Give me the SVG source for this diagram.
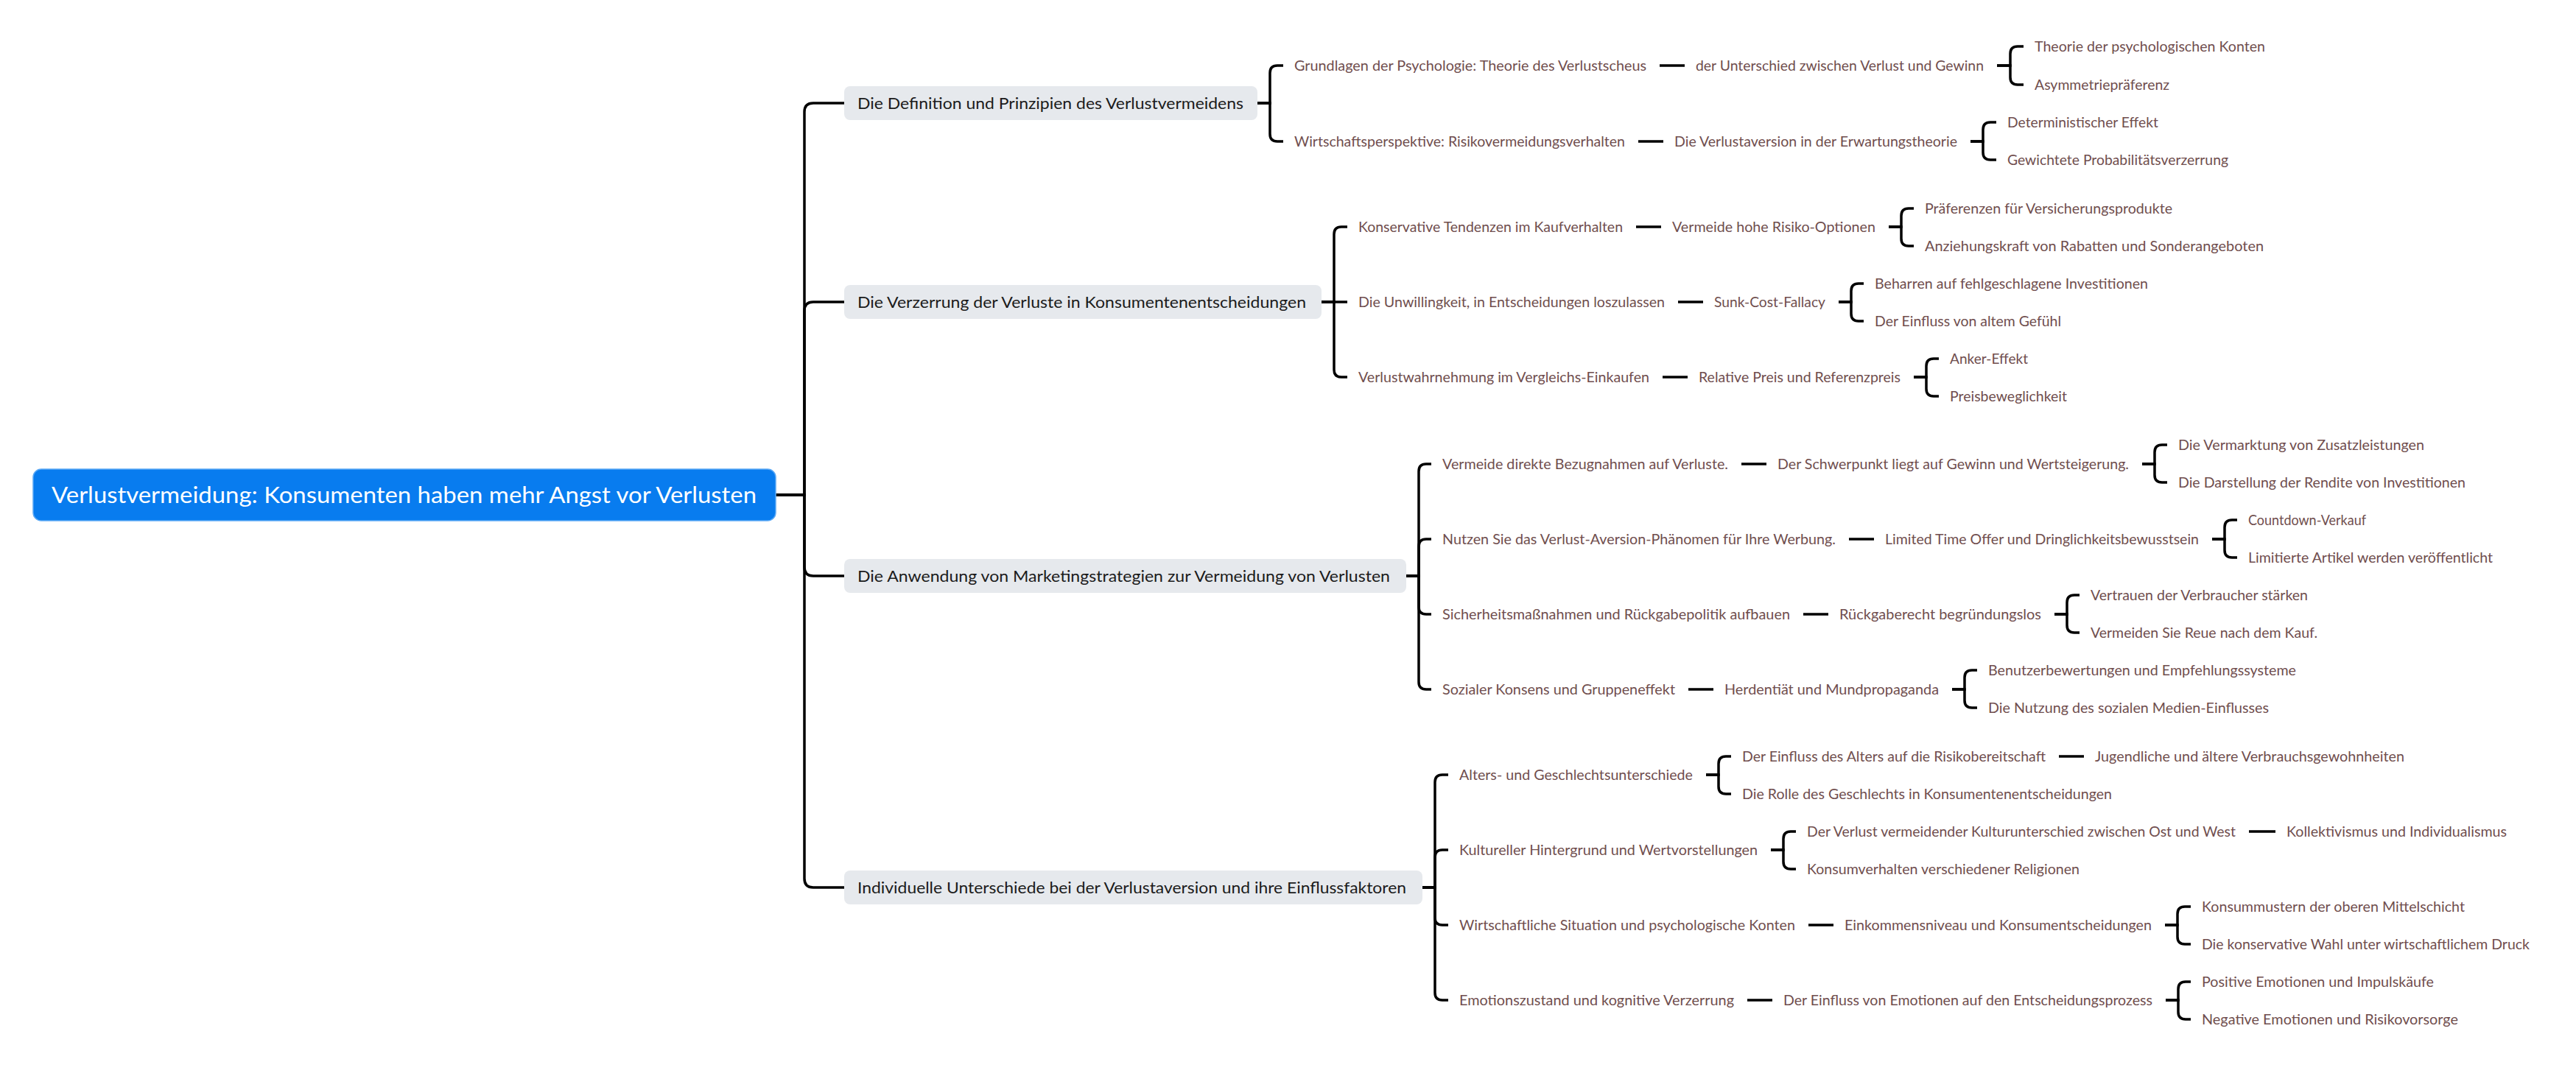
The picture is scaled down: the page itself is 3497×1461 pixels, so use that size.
<svg xmlns="http://www.w3.org/2000/svg" width="3497" height="1461" viewBox="0 0 3497 1461">
<style>
.c{fill:none;stroke:#000;stroke-width:3.5}
.rt{font-family:Lato,"Noto Sans","DejaVu Sans",sans-serif;font-size:30px;fill:#fff}
.t1{font-family:Lato,"Noto Sans","DejaVu Sans",sans-serif;font-size:22px;fill:#1b1b1b}
.t2{font-family:Lato,"Noto Sans","DejaVu Sans",sans-serif;font-size:20px;fill:#704e4e}
.b1{fill:#e6e9ed}
</style>
<rect width="3497" height="1461" fill="#fff"/>
<g id="connectors">
<path class="c" d="M1053,672 H1092 V152 Q1092,140 1104,140 H1146"/>
<path class="c" d="M1053,672 H1092 V422 Q1092,410 1104,410 H1146"/>
<path class="c" d="M1053,672 H1092 V770 Q1092,782 1104,782 H1146"/>
<path class="c" d="M1053,672 H1092 V1193 Q1092,1205 1104,1205 H1146"/>
<path class="c" d="M1707,140 H1724 V99 Q1724,89 1734,89 H1742"/>
<path class="c" d="M1707,140 H1724 V182 Q1724,192 1734,192 H1742"/>
<path class="c" d="M2253,89 H2287"/>
<path class="c" d="M2711,89 H2729 V73 Q2729,63 2739,63 H2747"/>
<path class="c" d="M2711,89 H2729 V105 Q2729,115 2739,115 H2747"/>
<path class="c" d="M2224,192 H2258"/>
<path class="c" d="M2675,192 H2692 V176 Q2692,166 2702,166 H2710"/>
<path class="c" d="M2675,192 H2692 V207 Q2692,217 2702,217 H2710"/>
<path class="c" d="M1794,410 H1811 V318 Q1811,308 1821,308 H1829"/>
<path class="c" d="M1794,410 H1829"/>
<path class="c" d="M1794,410 H1811 V502 Q1811,512 1821,512 H1829"/>
<path class="c" d="M2221,308 H2255"/>
<path class="c" d="M2564,308 H2581 V293 Q2581,283 2591,283 H2598"/>
<path class="c" d="M2564,308 H2581 V324 Q2581,334 2591,334 H2598"/>
<path class="c" d="M2278,410 H2312"/>
<path class="c" d="M2496,410 H2513 V395 Q2513,385 2523,385 H2530"/>
<path class="c" d="M2496,410 H2513 V426 Q2513,436 2523,436 H2530"/>
<path class="c" d="M2257,512 H2291"/>
<path class="c" d="M2598,512 H2615 V497 Q2615,487 2625,487 H2632"/>
<path class="c" d="M2598,512 H2615 V528 Q2615,538 2625,538 H2632"/>
<path class="c" d="M1909,782 H1926 V640 Q1926,630 1936,630 H1943"/>
<path class="c" d="M1909,782 H1926 V742 Q1926,732 1936,732 H1943"/>
<path class="c" d="M1909,782 H1926 V824 Q1926,834 1936,834 H1943"/>
<path class="c" d="M1909,782 H1926 V926 Q1926,936 1936,936 H1943"/>
<path class="c" d="M2364,630 H2398"/>
<path class="c" d="M2908,630 H2925 V614 Q2925,604 2935,604 H2942"/>
<path class="c" d="M2908,630 H2925 V645 Q2925,655 2935,655 H2942"/>
<path class="c" d="M2510,732 H2544"/>
<path class="c" d="M3003,732 H3020 V716 Q3020,706 3030,706 H3037"/>
<path class="c" d="M3003,732 H3020 V747 Q3020,757 3030,757 H3037"/>
<path class="c" d="M2448,834 H2482"/>
<path class="c" d="M2789,834 H2806 V818 Q2806,808 2816,808 H2823"/>
<path class="c" d="M2789,834 H2806 V849 Q2806,859 2816,859 H2823"/>
<path class="c" d="M2292,936 H2326"/>
<path class="c" d="M2650,936 H2667 V920 Q2667,910 2677,910 H2684"/>
<path class="c" d="M2650,936 H2667 V951 Q2667,961 2677,961 H2684"/>
<path class="c" d="M1931,1205 H1948 V1062 Q1948,1052 1958,1052 H1966"/>
<path class="c" d="M1931,1205 H1948 V1164 Q1948,1154 1958,1154 H1966"/>
<path class="c" d="M1931,1205 H1948 V1246 Q1948,1256 1958,1256 H1966"/>
<path class="c" d="M1931,1205 H1948 V1348 Q1948,1358 1958,1358 H1966"/>
<path class="c" d="M2316,1052 H2333 V1037 Q2333,1027 2343,1027 H2350"/>
<path class="c" d="M2316,1052 H2333 V1068 Q2333,1078 2343,1078 H2350"/>
<path class="c" d="M2795,1027 H2829"/>
<path class="c" d="M2404,1154 H2421 V1139 Q2421,1129 2431,1129 H2438"/>
<path class="c" d="M2404,1154 H2421 V1170 Q2421,1180 2431,1180 H2438"/>
<path class="c" d="M3053,1129 H3089"/>
<path class="c" d="M2455,1256 H2489"/>
<path class="c" d="M2939,1256 H2956 V1241 Q2956,1231 2966,1231 H2974"/>
<path class="c" d="M2939,1256 H2956 V1272 Q2956,1282 2966,1282 H2974"/>
<path class="c" d="M2372,1358 H2406"/>
<path class="c" d="M2940,1358 H2957 V1343 Q2957,1333 2967,1333 H2974"/>
<path class="c" d="M2940,1358 H2957 V1374 Q2957,1384 2967,1384 H2974"/>
</g>
<g id="root">
<rect x="45" y="637" width="1008" height="70" rx="11" fill="#087cef" stroke="#5aa8f5" stroke-width="1.5"/>
<text class="rt" x="70" y="683" textLength="957" lengthAdjust="spacingAndGlyphs">Verlustvermeidung: Konsumenten haben mehr Angst vor Verlusten</text>
</g>
<g id="n1">
<rect class="b1" x="1146" y="117" width="561" height="46" rx="8"/>
<text class="t1" x="1164" y="148" textLength="524" lengthAdjust="spacingAndGlyphs">Die Definition und Prinzipien des Verlustvermeidens</text>
</g>
<g id="n1-1"><text class="t2" x="1757" y="96" textLength="478" lengthAdjust="spacingAndGlyphs">Grundlagen der Psychologie: Theorie des Verlustscheus</text></g>
<g id="n1-1-1"><text class="t2" x="2302" y="96" textLength="391" lengthAdjust="spacingAndGlyphs">der Unterschied zwischen Verlust und Gewinn</text></g>
<g id="n1-1-1-1"><text class="t2" x="2762" y="70" textLength="313" lengthAdjust="spacingAndGlyphs">Theorie der psychologischen Konten</text></g>
<g id="n1-1-1-2"><text class="t2" x="2762" y="122" textLength="183" lengthAdjust="spacingAndGlyphs">Asymmetriepräferenz</text></g>
<g id="n1-2"><text class="t2" x="1757" y="199" textLength="449" lengthAdjust="spacingAndGlyphs">Wirtschaftsperspektive: Risikovermeidungsverhalten</text></g>
<g id="n1-2-1"><text class="t2" x="2273" y="199" textLength="384" lengthAdjust="spacingAndGlyphs">Die Verlustaversion in der Erwartungstheorie</text></g>
<g id="n1-2-1-1"><text class="t2" x="2725" y="173" textLength="205" lengthAdjust="spacingAndGlyphs">Deterministischer Effekt</text></g>
<g id="n1-2-1-2"><text class="t2" x="2725" y="224" textLength="300" lengthAdjust="spacingAndGlyphs">Gewichtete Probabilitätsverzerrung</text></g>
<g id="n2">
<rect class="b1" x="1146" y="387" width="648" height="46" rx="8"/>
<text class="t1" x="1164" y="418" textLength="609" lengthAdjust="spacingAndGlyphs">Die Verzerrung der Verluste in Konsumentenentscheidungen</text>
</g>
<g id="n2-1"><text class="t2" x="1844" y="315" textLength="359" lengthAdjust="spacingAndGlyphs">Konservative Tendenzen im Kaufverhalten</text></g>
<g id="n2-1-1"><text class="t2" x="2270" y="315" textLength="276" lengthAdjust="spacingAndGlyphs">Vermeide hohe Risiko-Optionen</text></g>
<g id="n2-1-1-1"><text class="t2" x="2613" y="290" textLength="336" lengthAdjust="spacingAndGlyphs">Präferenzen für Versicherungsprodukte</text></g>
<g id="n2-1-1-2"><text class="t2" x="2613" y="341" textLength="460" lengthAdjust="spacingAndGlyphs">Anziehungskraft von Rabatten und Sonderangeboten</text></g>
<g id="n2-2"><text class="t2" x="1844" y="417" textLength="416" lengthAdjust="spacingAndGlyphs">Die Unwillingkeit, in Entscheidungen loszulassen</text></g>
<g id="n2-2-1"><text class="t2" x="2327" y="417" textLength="151" lengthAdjust="spacingAndGlyphs">Sunk-Cost-Fallacy</text></g>
<g id="n2-2-1-1"><text class="t2" x="2545" y="392" textLength="371" lengthAdjust="spacingAndGlyphs">Beharren auf fehlgeschlagene Investitionen</text></g>
<g id="n2-2-1-2"><text class="t2" x="2545" y="443" textLength="253" lengthAdjust="spacingAndGlyphs">Der Einfluss von altem Gefühl</text></g>
<g id="n2-3"><text class="t2" x="1844" y="519" textLength="395" lengthAdjust="spacingAndGlyphs">Verlustwahrnehmung im Vergleichs-Einkaufen</text></g>
<g id="n2-3-1"><text class="t2" x="2306" y="519" textLength="274" lengthAdjust="spacingAndGlyphs">Relative Preis und Referenzpreis</text></g>
<g id="n2-3-1-1"><text class="t2" x="2647" y="494" textLength="106" lengthAdjust="spacingAndGlyphs">Anker-Effekt</text></g>
<g id="n2-3-1-2"><text class="t2" x="2647" y="545" textLength="159" lengthAdjust="spacingAndGlyphs">Preisbeweglichkeit</text></g>
<g id="n3">
<rect class="b1" x="1146" y="759" width="763" height="46" rx="8"/>
<text class="t1" x="1164" y="790" textLength="723" lengthAdjust="spacingAndGlyphs">Die Anwendung von Marketingstrategien zur Vermeidung von Verlusten</text>
</g>
<g id="n3-1"><text class="t2" x="1958" y="637" textLength="388" lengthAdjust="spacingAndGlyphs">Vermeide direkte Bezugnahmen auf Verluste.</text></g>
<g id="n3-1-1"><text class="t2" x="2413" y="637" textLength="477" lengthAdjust="spacingAndGlyphs">Der Schwerpunkt liegt auf Gewinn und Wertsteigerung.</text></g>
<g id="n3-1-1-1"><text class="t2" x="2957" y="611" textLength="334" lengthAdjust="spacingAndGlyphs">Die Vermarktung von Zusatzleistungen</text></g>
<g id="n3-1-1-2"><text class="t2" x="2957" y="662" textLength="390" lengthAdjust="spacingAndGlyphs">Die Darstellung der Rendite von Investitionen</text></g>
<g id="n3-2"><text class="t2" x="1958" y="739" textLength="534" lengthAdjust="spacingAndGlyphs">Nutzen Sie das Verlust-Aversion-Phänomen für Ihre Werbung.</text></g>
<g id="n3-2-1"><text class="t2" x="2559" y="739" textLength="426" lengthAdjust="spacingAndGlyphs">Limited Time Offer und Dringlichkeitsbewusstsein</text></g>
<g id="n3-2-1-1"><text class="t2" x="3052" y="713" textLength="160" lengthAdjust="spacingAndGlyphs">Countdown-Verkauf</text></g>
<g id="n3-2-1-2"><text class="t2" x="3052" y="764" textLength="332" lengthAdjust="spacingAndGlyphs">Limitierte Artikel werden veröffentlicht</text></g>
<g id="n3-3"><text class="t2" x="1958" y="841" textLength="472" lengthAdjust="spacingAndGlyphs">Sicherheitsmaßnahmen und Rückgabepolitik aufbauen</text></g>
<g id="n3-3-1"><text class="t2" x="2497" y="841" textLength="274" lengthAdjust="spacingAndGlyphs">Rückgaberecht begründungslos</text></g>
<g id="n3-3-1-1"><text class="t2" x="2838" y="815" textLength="295" lengthAdjust="spacingAndGlyphs">Vertrauen der Verbraucher stärken</text></g>
<g id="n3-3-1-2"><text class="t2" x="2838" y="866" textLength="308" lengthAdjust="spacingAndGlyphs">Vermeiden Sie Reue nach dem Kauf.</text></g>
<g id="n3-4"><text class="t2" x="1958" y="943" textLength="316" lengthAdjust="spacingAndGlyphs">Sozialer Konsens und Gruppeneffekt</text></g>
<g id="n3-4-1"><text class="t2" x="2341" y="943" textLength="291" lengthAdjust="spacingAndGlyphs">Herdentiät und Mundpropaganda</text></g>
<g id="n3-4-1-1"><text class="t2" x="2699" y="917" textLength="418" lengthAdjust="spacingAndGlyphs">Benutzerbewertungen und Empfehlungssysteme</text></g>
<g id="n3-4-1-2"><text class="t2" x="2699" y="968" textLength="381" lengthAdjust="spacingAndGlyphs">Die Nutzung des sozialen Medien-Einflusses</text></g>
<g id="n4">
<rect class="b1" x="1146" y="1182" width="785" height="46" rx="8"/>
<text class="t1" x="1164" y="1213" textLength="745" lengthAdjust="spacingAndGlyphs">Individuelle Unterschiede bei der Verlustaversion und ihre Einflussfaktoren</text>
</g>
<g id="n4-1"><text class="t2" x="1981" y="1059" textLength="317" lengthAdjust="spacingAndGlyphs">Alters- und Geschlechtsunterschiede</text></g>
<g id="n4-1-1"><text class="t2" x="2365" y="1034" textLength="412" lengthAdjust="spacingAndGlyphs">Der Einfluss des Alters auf die Risikobereitschaft</text></g>
<g id="n4-1-1-1"><text class="t2" x="2844" y="1034" textLength="420" lengthAdjust="spacingAndGlyphs">Jugendliche und ältere Verbrauchsgewohnheiten</text></g>
<g id="n4-1-2"><text class="t2" x="2365" y="1085" textLength="502" lengthAdjust="spacingAndGlyphs">Die Rolle des Geschlechts in Konsumentenentscheidungen</text></g>
<g id="n4-2"><text class="t2" x="1981" y="1161" textLength="405" lengthAdjust="spacingAndGlyphs">Kultureller Hintergrund und Wertvorstellungen</text></g>
<g id="n4-2-1"><text class="t2" x="2453" y="1136" textLength="582" lengthAdjust="spacingAndGlyphs">Der Verlust vermeidender Kulturunterschied zwischen Ost und West</text></g>
<g id="n4-2-1-1"><text class="t2" x="3104" y="1136" textLength="299" lengthAdjust="spacingAndGlyphs">Kollektivismus und Individualismus</text></g>
<g id="n4-2-2"><text class="t2" x="2453" y="1187" textLength="370" lengthAdjust="spacingAndGlyphs">Konsumverhalten verschiedener Religionen</text></g>
<g id="n4-3"><text class="t2" x="1981" y="1263" textLength="456" lengthAdjust="spacingAndGlyphs">Wirtschaftliche Situation und psychologische Konten</text></g>
<g id="n4-3-1"><text class="t2" x="2504" y="1263" textLength="417" lengthAdjust="spacingAndGlyphs">Einkommensniveau und Konsumentscheidungen</text></g>
<g id="n4-3-1-1"><text class="t2" x="2989" y="1238" textLength="357" lengthAdjust="spacingAndGlyphs">Konsummustern der oberen Mittelschicht</text></g>
<g id="n4-3-1-2"><text class="t2" x="2989" y="1289" textLength="445" lengthAdjust="spacingAndGlyphs">Die konservative Wahl unter wirtschaftlichem Druck</text></g>
<g id="n4-4"><text class="t2" x="1981" y="1365" textLength="373" lengthAdjust="spacingAndGlyphs">Emotionszustand und kognitive Verzerrung</text></g>
<g id="n4-4-1"><text class="t2" x="2421" y="1365" textLength="501" lengthAdjust="spacingAndGlyphs">Der Einfluss von Emotionen auf den Entscheidungsprozess</text></g>
<g id="n4-4-1-1"><text class="t2" x="2989" y="1340" textLength="315" lengthAdjust="spacingAndGlyphs">Positive Emotionen und Impulskäufe</text></g>
<g id="n4-4-1-2"><text class="t2" x="2989" y="1391" textLength="348" lengthAdjust="spacingAndGlyphs">Negative Emotionen und Risikovorsorge</text></g>
</svg>
